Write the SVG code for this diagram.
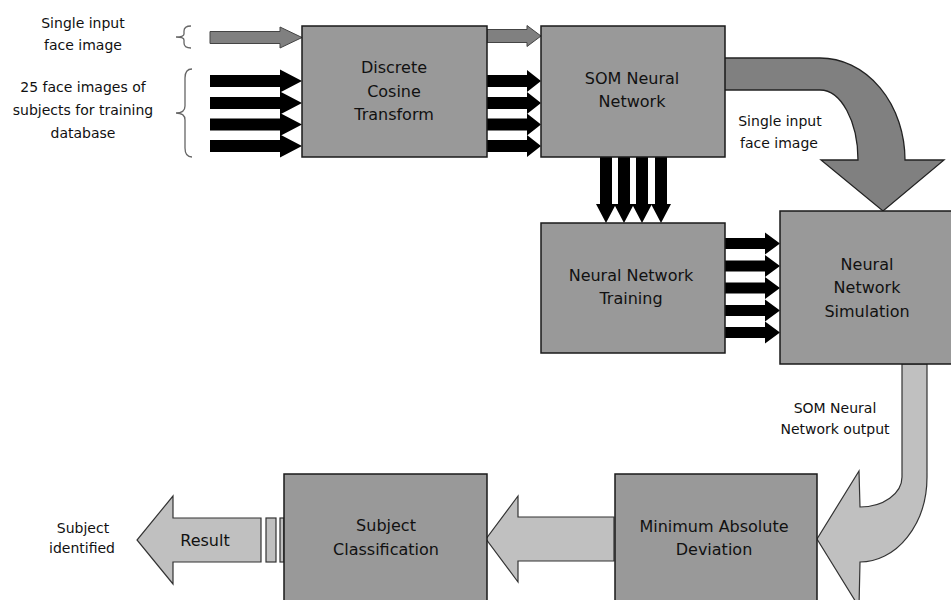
<svg xmlns="http://www.w3.org/2000/svg" width="951" height="600" viewBox="0 0 951 600">
<style>
.box{fill:#999999;stroke:#1a1a1a;stroke-width:1.5}
.lbl{font-family:"DejaVu Sans",Verdana,sans-serif;font-size:16px;fill:#111;text-anchor:middle}
.note{font-family:"DejaVu Sans",Verdana,sans-serif;font-size:14px;fill:#111;text-anchor:middle}
.blk{fill:#000}
.gry{fill:#808080;stroke:#444;stroke-width:1}
.lt{fill:#c0c0c0;stroke:#333;stroke-width:1.2}
.dk{fill:#808080;stroke:#222;stroke-width:1.3}
.brace{fill:none;stroke:#666;stroke-width:1.3}
</style>
<rect width="951" height="600" fill="#fff"/>

<g id="labels-input">
<text class="note" x="83" y="28">Single input</text>
<text class="note" x="83" y="50">face image</text>
<text class="note" x="83" y="92">25 face images of</text>
<text class="note" x="83" y="115">subjects for training</text>
<text class="note" x="83" y="138">database</text>
<path class="brace" d="M191 26 Q184 26 184 31 L184 34 Q184 37 176 37 Q184 37 184 40 L184 43 Q184 48 191 48"/>
<path class="brace" d="M192 69 Q185 69 185 78 L185 106 Q185 113 176 113 Q185 113 185 120 L185 148 Q185 157 192 157"/>
</g>

<g id="connectors">
<!-- input grey arrow -->
<path class="gry" d="M210 31.5 L280 31.5 L280 27 L302 37.5 L280 48 L280 43.5 L210 43.5 Z"/>
<!-- input black arrows -->
<path class="blk" d="M210 75 L280 75 L280 69.5 L302 81 L280 92.5 L280 87 L210 87 Z"/>
<path class="blk" d="M210 97 L280 97 L280 91.5 L302 103 L280 114.5 L280 109 L210 109 Z"/>
<path class="blk" d="M210 118.5 L280 118.5 L280 113 L302 124.5 L280 136 L280 130.5 L210 130.5 Z"/>
<path class="blk" d="M210 140 L280 140 L280 134.5 L302 146 L280 157.5 L280 152 L210 152 Z"/>
<!-- DCT to SOM -->
<path class="gry" d="M487 29.5 L527 29.5 L527 25.5 L541 36 L527 46.5 L527 42.5 L487 42.5 Z"/>
<path class="blk" d="M487 75 L527 75 L527 70 L541 81 L527 92 L527 87 L487 87 Z"/>
<path class="blk" d="M487 97 L527 97 L527 92 L541 103 L527 114 L527 109 L487 109 Z"/>
<path class="blk" d="M487 118.5 L527 118.5 L527 113.5 L541 124.5 L527 135.5 L527 130.5 L487 130.5 Z"/>
<path class="blk" d="M487 140 L527 140 L527 135 L541 146 L527 157 L527 152 L487 152 Z"/>
<!-- SOM down to training -->
<path class="blk" d="M600 157 L600 204 L596 204 L606 223 L616 204 L612 204 L612 157 Z"/>
<path class="blk" d="M618 157 L618 204 L614 204 L624 223 L634 204 L630 204 L630 157 Z"/>
<path class="blk" d="M636 157 L636 204 L632 204 L642 223 L652 204 L648 204 L648 157 Z"/>
<path class="blk" d="M655 157 L655 204 L651 204 L661 223 L671 204 L667 204 L667 157 Z"/>
<!-- training to simulation -->
<path class="blk" d="M725 238 L765 238 L765 232.5 L780 243.5 L765 254.5 L765 249 L725 249 Z"/>
<path class="blk" d="M725 260.5 L765 260.5 L765 255 L780 266 L765 277 L765 271.5 L725 271.5 Z"/>
<path class="blk" d="M725 282.5 L765 282.5 L765 277 L780 288 L765 299 L765 293.5 L725 293.5 Z"/>
<path class="blk" d="M725 305 L765 305 L765 299.5 L780 310.5 L765 321.5 L765 316 L725 316 Z"/>
<path class="blk" d="M725 327 L765 327 L765 321.5 L780 332.5 L765 343.5 L765 338 L725 338 Z"/>
<!-- curved SOM to simulation -->
<path class="dk" d="M724 58 L820 58 A85 102 0 0 1 905 160 L944 160 L883 211 L821 160 L858 160 A38 70 0 0 0 820 90 L724 90 Z"/>
<!-- curved simulation to MAD -->
<path class="lt" d="M902 364 L902 477 A42 30 0 0 1 860 507 L859 471 L817 539 L859 607 L860 562 A67 85 0 0 0 927 477 L927 364 Z"/>
<!-- MAD to SC -->
<path class="lt" d="M614 517 L518 517 L518 496 L486 539 L518 582 L518 561 L614 561 Z"/>
<!-- result -->
<path class="lt" d="M261 518 L173 518 L173 496 L137 540 L173 584 L173 562 L261 562 Z"/>
<rect class="lt" x="266" y="518" width="10" height="44"/>
<rect class="lt" x="280" y="518" width="4" height="44"/>
</g>

<g id="labels-mid">
<text class="note" x="780" y="126">Single input</text>
<text class="note" x="779" y="148">face image</text>
<text class="note" x="835" y="413">SOM Neural</text>
<text class="note" x="835" y="434">Network output</text>
<text class="note" x="83" y="533">Subject</text>
<text class="note" x="82" y="553">identified</text>
<text class="lbl" x="205" y="546">Result</text>
</g>

<g id="dct">
<rect class="box" x="302" y="26" width="185" height="131"/>
<text class="lbl" x="394" y="73">Discrete</text>
<text class="lbl" x="394" y="97">Cosine</text>
<text class="lbl" x="394" y="120">Transform</text>
</g>

<g id="som">
<rect class="box" x="541" y="26" width="184" height="131"/>
<text class="lbl" x="632" y="84">SOM Neural</text>
<text class="lbl" x="632" y="107">Network</text>
</g>

<g id="training">
<rect class="box" x="541" y="223" width="184" height="130"/>
<text class="lbl" x="631" y="281">Neural Network</text>
<text class="lbl" x="631" y="304">Training</text>
</g>

<g id="simulation">
<rect class="box" x="780" y="211" width="180" height="153"/>
<text class="lbl" x="867" y="270">Neural</text>
<text class="lbl" x="867" y="293">Network</text>
<text class="lbl" x="867" y="317">Simulation</text>
</g>

<g id="mad">
<rect class="box" x="615" y="474" width="202" height="140"/>
<text class="lbl" x="714" y="532">Minimum Absolute</text>
<text class="lbl" x="714" y="555">Deviation</text>
</g>

<g id="classification">
<rect class="box" x="284" y="474" width="203" height="140"/>
<text class="lbl" x="386" y="531">Subject</text>
<text class="lbl" x="386" y="555">Classification</text>
</g>
</svg>
